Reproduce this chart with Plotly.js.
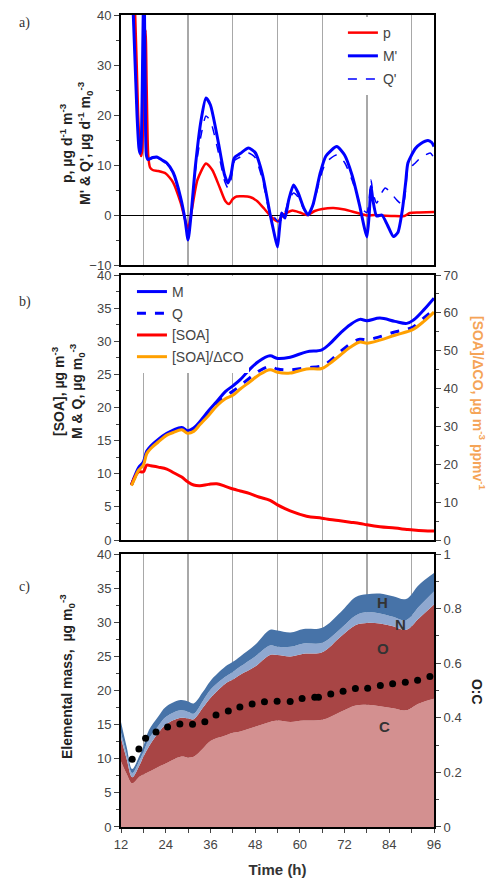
<!DOCTYPE html>
<html>
<head>
<meta charset="utf-8">
<script src="https://cdn.plot.ly/plotly-3.0.1.min.js"></script>
<style>html,body{margin:0;padding:0;background:#fff;}#chart{width:490px;height:880px;}</style>
</head>
<body>
<div id="chart"></div>
<script>
// ---------- Panel a: production rates ----------
const tA_M = [14.0,15.3,16.3,16.8,17.1,17.4,17.7,18.0,18.2,18.5,18.8,19.2,20.5,21.6,23,24.3,26,28,29.2,30,30.8,32,33.5,34.8,36,38,39.8,40.7,41.5,42.2,42.6,44,46.2,48,50,52,53.2,54,54.5,55.1,56,57,58.3,59.5,61,62.2,63.5,65.5,67,69.9,72,74,76,77.3,78,78.6,79.1,79.6,80.6,82,83.5,85.1,86.3,87.5,88.4,89,91,92.5,94.4,95.4,96];
const Mprime = [60,40,20,13.5,12.3,14,25,42,45,25,12,11.1,11.5,11.6,11.0,10.4,8.5,3.5,-1,-5,0,10,19,23.4,22,15,8,6.4,8,11,11.6,12.3,13.4,12.5,8,0.2,-4,-6.4,-3,0.4,-0.6,3,6,4.5,1.5,0,2,8.5,11.8,13.7,12,8,2,-2.5,-4.4,0,5.7,3,-0.2,0,-2,-4.3,-3.5,1,6.5,10.4,13.3,14.3,14.9,14.5,13.7];
const tA_Q = [14.0,15.3,16.3,16.8,17.1,17.4,17.7,18.0,18.2,18.5,18.8,19.2,20.5,21.6,23,24.3,26,28,29.2,30,30.8,32,33.5,34.8,36,38,39.8,40.7,41.5,42.2,42.6,44,46.2,48,50,52,53.2,54,55.1,56,57,58.3,59.5,61,62.2,63.5,65.5,67,69.9,72,74,76,77.3,78,78.6,79.1,79.6,80.6,82,82.9,84,86,87.7,88.4,89,91,92.5,95,96];
const Qprime = [60,40,20,13.5,12.3,14,25,42,45,25,12,11.0,11.4,11.5,10.9,10.2,8.3,3.3,-1,-4.8,0,9,16,19.8,18.8,13,6.8,5.4,7,10.3,11,11.6,12.4,11.5,7,0.3,-0.5,-1.2,-1.0,0.5,3,4.4,3.6,1.2,0,1.8,7.5,10.5,12,10.5,7,2.5,0.8,0.5,3,7,4.5,2.4,4.5,5.4,4.8,3,2,5,9,10.4,11.5,12.4,11.4];
const tA_p = [14.2,15.8,16.6,17.1,17.4,17.7,18.0,18.3,18.6,18.9,19.3,19.8,20.5,22,24,26,28,30,31,32.5,34.8,36.5,38.5,40,41,42,43,46.6,48.5,50.5,52.5,54.1,55.5,58,60,62,64,66,69,72,75,78,80,82,85,88,89.5,92,96];
const pRate = [60,40,20,13,11.8,13,22,33,37,25,12,9.5,9,8.8,8.3,6.5,2.5,-2.7,1,7,10.3,9,5.5,2.8,2.2,3.2,3.7,3.6,2.8,1.2,-0.5,-1.3,0,0.9,0.5,0,0.8,1.2,1.4,1.1,0.5,-0.1,0,-0.1,-0.2,-0.2,0.4,0.5,0.6];

// ---------- Panel b: concentrations ----------
const tB = [14.8,15.8,16.7,18,18.9,20,22,24.3,26,28.3,29.9,31.5,33.2,35.5,37.7,40,42.1,44,46.6,49,52,54,57.4,61.8,65.9,68,70.8,73.5,76.1,78,81.5,85.5,88.7,90.5,93.2,96];
const M = [8.3,9.8,10.9,11.8,13.4,14.2,15.2,16.1,16.6,17.0,16.5,16.9,17.9,19.5,20.9,22.4,23.3,24.2,25.8,27.0,27.8,27.4,27.6,28.4,28.7,29.6,31.2,32.5,33.3,33.1,33.5,33.0,32.7,33.2,34.7,36.5];
const Q = [8.3,9.6,10.7,11.6,13.2,14.0,15.0,15.9,16.4,16.8,16.3,16.6,17.6,19.0,20.4,21.7,22.5,23.3,24.5,25.5,26.2,25.8,25.7,26.0,26.3,27.0,28.4,29.6,30.3,30.2,30.7,31.4,31.8,32.2,33.5,34.8];
const SOA = [8.3,9.6,10.3,10.3,11.3,11.2,11.0,10.7,10.2,9.5,8.8,8.3,8.2,8.4,8.5,8.1,7.7,7.4,7.0,6.5,6.0,5.3,4.4,3.6,3.3,3.1,2.9,2.7,2.5,2.3,2.0,1.8,1.6,1.5,1.4,1.35];
const SOAdCO = [14.4,16.5,18.4,19.8,22.8,24.2,25.9,27.7,28.4,29.1,28.2,28.7,30.5,32.9,35.4,37.3,38.3,39.9,41.8,43.6,45.0,44.3,44.1,45.2,45.3,46.6,48.8,50.9,52.3,52.0,52.8,54.1,55.0,55.7,57.7,60.2];

// ---------- Panel c: elemental mass (stacked) and O:C ----------
const tC = [12,13.5,15,17,18,19.5,22,24,28,30,31.5,34,36,40,42,44,48,52,54,57.5,61,66,71,75,78,81.5,85,88.5,92,96];
const massC = [9.6,7.8,6.4,7.4,7.7,8.1,8.8,9.3,10.3,10.2,10.3,11.5,12.6,13.4,13.8,14.0,14.7,15.4,15.6,15.4,15.6,15.7,16.9,17.8,17.9,17.7,17.4,17.1,18.1,18.8];
const massO = [3.4,2.2,0.9,1.7,2.6,3.7,5.0,5.7,5.7,5.7,5.5,6.0,6.3,7.6,7.8,8.3,8.8,9.8,9.6,9.6,9.8,9.9,11.0,11.8,12.0,12.1,12.0,11.8,12.5,13.8];
const massN = [0.8,0.7,0.6,0.7,0.7,1.1,1.0,1.1,1.1,1.0,0.8,1.0,1.2,1.0,1.1,1.2,1.5,1.4,1.2,1.4,1.5,1.4,1.2,1.4,1.6,1.5,1.4,1.4,1.7,1.9];
const massH = [1.6,1.1,0.6,0.7,0.8,1.3,1.4,1.5,1.5,1.5,1.5,1.3,1.3,1.5,1.5,1.5,1.7,2.3,2.4,2.1,2.1,2.2,2.4,2.7,2.6,2.9,3.0,3.1,3.2,2.7];
const tOC = [15.0,16.8,18.6,21.4,24.5,27.8,31.2,34.5,37.5,40.8,43.9,47.2,50.5,53.9,57.4,60.6,64.0,65.0,68.3,71.6,74.9,78.2,81.6,84.9,88.3,91.6,94.9];
const OtoC = [0.248,0.286,0.325,0.348,0.366,0.377,0.376,0.386,0.410,0.425,0.440,0.451,0.459,0.461,0.460,0.471,0.475,0.475,0.487,0.497,0.507,0.508,0.518,0.525,0.530,0.538,0.551];

const xTicks = [12,24,36,48,60,72,84,96];
const xGrid = [18,30,42,54,66,78,90];
const elementLabels = ['H','N','O','C'];
const elementLabelX = [82.2,87.0,82.2,82.6];
const elementLabelY = [32.9,29.6,26.2,14.7];

const RED = '#ff0000', BLUE = '#0000ff', ORANGE = '#ffa000';
const colC = '#d39090', colO = '#a84545', colN = '#8fa8d0', colH = '#4773a8';
const SANS = 'Liberation Sans, Arial, sans-serif';

const traces = [
  // panel a
  {x: tA_p, y: pRate, xaxis:'x3', yaxis:'y4', mode:'lines', name:'p', line:{color:RED, width:2.5, shape:'spline', smoothing:0.6}, legend:'legend', legendgroup:'a1'},
  {x: tA_M, y: Mprime, xaxis:'x3', yaxis:'y4', mode:'lines', name:"M'", line:{color:BLUE, width:3, shape:'spline', smoothing:0.6}, legend:'legend', legendgroup:'a2'},
  {x: tA_Q, y: Qprime, xaxis:'x3', yaxis:'y4', mode:'lines', name:"Q'", line:{color:BLUE, width:1.5, dash:'dash', shape:'spline', smoothing:0.6}, legend:'legend', legendgroup:'a3'},
  // panel b
  {x: tB, y: M, xaxis:'x2', yaxis:'y2', mode:'lines', name:'M', line:{color:BLUE, width:3, shape:'spline'}, legend:'legend2', legendgroup:'b1'},
  {x: tB, y: Q, xaxis:'x2', yaxis:'y2', mode:'lines', name:'Q', line:{color:BLUE, width:3, dash:'dash', shape:'spline'}, legend:'legend2', legendgroup:'b2'},
  {x: tB, y: SOA, xaxis:'x2', yaxis:'y2', mode:'lines', name:'[SOA]', line:{color:RED, width:3, shape:'spline'}, legend:'legend2', legendgroup:'b3'},
  {x: tB, y: SOAdCO, xaxis:'x2', yaxis:'y3', mode:'lines', name:'[SOA]/ΔCO', line:{color:ORANGE, width:3, shape:'spline'}, legend:'legend2', legendgroup:'b4'},
  // panel c
  {x: tC, y: massC, xaxis:'x', yaxis:'y', stackgroup:'el', mode:'none', fillcolor:colC, line:{shape:'spline'}, name:'C', showlegend:false},
  {x: tC, y: massO, xaxis:'x', yaxis:'y', stackgroup:'el', mode:'none', fillcolor:colO, line:{shape:'spline'}, name:'O', showlegend:false},
  {x: tC, y: massN, xaxis:'x', yaxis:'y', stackgroup:'el', mode:'none', fillcolor:colN, line:{shape:'spline'}, name:'N', showlegend:false},
  {x: tC, y: massH, xaxis:'x', yaxis:'y', stackgroup:'el', mode:'none', fillcolor:colH, line:{shape:'spline'}, name:'H', showlegend:false},
  {x: tOC, y: OtoC, xaxis:'x', yaxis:'y5', mode:'markers', marker:{color:'#000', size:7}, name:'O:C', showlegend:false}
];

const tickFont = {family:SANS, size:13, color:'#444'};
const titleFont = {family:SANS, size:14, color:'#222'};
const minorTicks = (d) => ({dtick:d, ticks:'outside', ticklen:3, tickcolor:'#444'});
const baseY = {showline:true, linecolor:'#000', linewidth:2, ticks:'outside', ticklen:5, tickcolor:'#444', tickfont:tickFont, showgrid:false, zeroline:false};
const baseXhidden = {range:[12,96], showline:true, linecolor:'#000', linewidth:2, mirror:true, tickvals:xGrid, ticks:'', showticklabels:false, showgrid:true, gridcolor:'#a8a8a8', gridwidth:1.2, zeroline:false};

function yTitle(text, xp, yp, color) {
  return {text:'<b>'+text+'</b>', xref:'paper', yref:'paper', x:xp, y:yp, xanchor:'center', yanchor:'middle',
          textangle:-90, showarrow:false, font:{family:SANS, size:14, color:color||'#222'}};
}
function rTitle(text, xp, yp, color) {
  return {text:'<b>'+text+'</b>', xref:'paper', yref:'paper', x:xp, y:yp, xanchor:'center', yanchor:'middle',
          textangle:90, showarrow:false, font:{family:SANS, size:14, color:color}};
}
function panelLetter(text, yp) {
  return {text:text, xref:'paper', yref:'paper', x:-0.332, y:yp, xanchor:'left', yanchor:'middle', showarrow:false,
          font:{family:'Liberation Serif, serif', size:14, color:'#333'}};
}

const layout = {
  width:490, height:880,
  margin:{l:121, r:56, t:15, b:53},
  paper_bgcolor:'#fff', plot_bgcolor:'#fff',
  font:{family:SANS, size:13, color:'#444'},
  showlegend:true,
  // panel c
  xaxis:{range:[12,96], anchor:'y', showline:true, linecolor:'#000', linewidth:2, mirror:true,
    tickvals:xTicks, ticks:'outside', ticklen:4, tickcolor:'#444', tickfont:tickFont, showgrid:false, zeroline:false,
    minor:{tickvals:xGrid, ticks:'outside', ticklen:4, tickcolor:'#444', showgrid:true, gridcolor:'#a8a8a8', gridwidth:1.2},
    title:{text:'<b>Time (h)</b>', font:{family:SANS, size:15, color:'#333'}, standoff:14}},
  yaxis:Object.assign({}, baseY, {domain:[0,0.3362], range:[0,40], dtick:5, mirror:true, anchor:'x', minor:minorTicks(2.5)}),
  yaxis5:Object.assign({}, baseY, {overlaying:'y', side:'right', anchor:'x', range:[0,1], dtick:0.2, minor:minorTicks(0.1)}),
  // panel b
  xaxis2:Object.assign({}, baseXhidden, {anchor:'y2'}),
  yaxis2:Object.assign({}, baseY, {domain:[0.3534,0.6798], range:[0,40], dtick:5, mirror:true, anchor:'x2', minor:minorTicks(2.5)}),
  yaxis3:Object.assign({}, baseY, {overlaying:'y2', side:'right', anchor:'x2', range:[0,70], dtick:10, minor:minorTicks(5)}),
  // panel a
  xaxis3:Object.assign({}, baseXhidden, {anchor:'y4'}),
  yaxis4:Object.assign({}, baseY, {domain:[0.6921,1], range:[-10,40], dtick:10, mirror:true, anchor:'x3',
    zeroline:true, zerolinecolor:'#000', zerolinewidth:1, minor:minorTicks(5)}),
  legend:{x:0.709, y:0.9975, xanchor:'left', yanchor:'top', bgcolor:'#fff', borderwidth:0,
    font:{family:SANS, size:14, color:'#444'}, tracegroupgap:2, itemclick:false},
  legend2:{x:0.035, y:0.6786, xanchor:'left', yanchor:'top', bgcolor:'#fff', borderwidth:0,
    font:{family:SANS, size:14, color:'#444'}, tracegroupgap:0.5, itemclick:false},
  annotations:[
    panelLetter('a)', 0.990),
    panelLetter('b)', 0.6466),
    panelLetter('c)', 0.2956),
    yTitle("p, µg d<sup>-1</sup> m<sup>-3</sup><br>M' & Q', µg d<sup>-1</sup> m<sub>0</sub><sup>-3</sup>", -0.1438, 0.8424),
    yTitle('[SOA], µg m<sup>-3</sup><br>M & Q, µg m<sub>0</sub><sup>-3</sup>', -0.1693, 0.5369),
    yTitle('Elemental mass,  µg m<sub>0</sub><sup>-3</sup>', -0.1725, 0.1847),
    rTitle('[SOA]/ΔCO, µg m<sup>-3</sup> ppmv<sup>-1</sup>', 1.1438, 0.5222, '#f5a457'),
    rTitle('O:C', 1.1374, 0.1663, '#222')
  ].concat(elementLabels.map((s,i)=>({text:'<b>'+s+'</b>', xref:'x', yref:'y', x:elementLabelX[i], y:elementLabelY[i],
      xanchor:'center', yanchor:'middle', showarrow:false, font:{family:SANS, size:15, color:'#333'}})))
};

Plotly.newPlot('chart', traces, layout, {staticPlot:true, displayModeBar:false});
</script>
</body>
</html>
